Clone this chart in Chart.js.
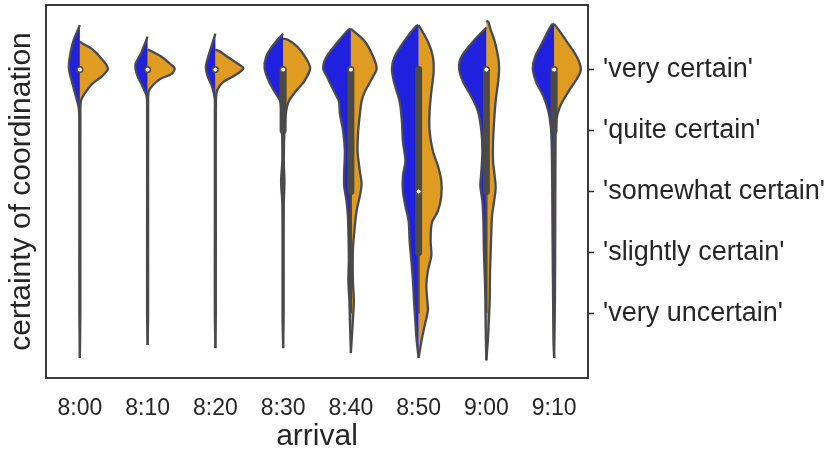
<!DOCTYPE html>
<html>
<head>
<meta charset="utf-8">
<script src="https://cdn.jsdelivr.net/npm/chart.js@4/dist/chart.umd.min.js"></script>
<style>
  html, body { margin: 0; padding: 0; background: #fff; }
</style>
</head>
<body>
<canvas id="chart" width="829" height="453"></canvas>
<script>
const arrivals = ["8:00", "8:10", "8:20", "8:30", "8:40", "8:50", "9:00", "9:10"];
const certaintyTicks = [1, 2, 3, 4, 5];
const certaintyLabels = ["'very uncertain'", "'slightly certain'", "'somewhat certain'", "'quite certain'", "'very certain'"];

// half violin outlines, top to bottom: [certainty, density half width]
const blueHalves = [
  [[5.73,0],[5.46,0.099],[5.21,0.148],[5.02,0.162],[4.80,0.118],[4.56,0.059],[4.35,0.015],[3.99,0.009],[2.5,0.008],[1.0,0.008],[0.27,0]],
  [[5.54,0],[5.29,0.089],[5.10,0.177],[5.02,0.18],[4.89,0.148],[4.72,0.074],[4.56,0.015],[4.3,0.008],[2.5,0.008],[1.0,0.008],[0.48,0]],
  [[5.59,0],[5.29,0.084],[5.10,0.133],[5.02,0.14],[4.89,0.114],[4.72,0.049],[4.53,0.01],[4.3,0.008],[2.5,0.008],[1.0,0.008],[0.43,0]],
  [[5.59,0],[5.38,0.162],[5.21,0.251],[5.02,0.273],[4.80,0.207],[4.61,0.111],[4.48,0.044],[4.23,0.022],[3.99,0.015],[3.5,0.012],[3.17,0.03],[2.8,0.012],[2.0,0.009],[1.0,0.009],[0.43,0]],
  [[5.67,0],[5.65,0.04],[5.46,0.188],[5.21,0.359],[5.02,0.409],[4.89,0.355],[4.64,0.247],[4.48,0.177],[4.27,0.162],[3.99,0.114],[3.66,0.089],[3.33,0.099],[3.09,0.099],[2.84,0.064],[2.60,0.044],[2.36,0.037],[1.87,0.03],[1.54,0.037],[1.21,0.022],[0.89,0.015],[0.35,0]],
  [[5.73,0],[5.71,0.04],[5.46,0.217],[5.21,0.355],[5.02,0.394],[4.80,0.365],[4.48,0.281],[4.15,0.247],[3.82,0.232],[3.50,0.196],[3.25,0.232],[3.01,0.232],[2.76,0.196],[2.52,0.148],[2.19,0.133],[1.87,0.108],[1.54,0.084],[1.21,0.069],[0.89,0.049],[0.56,0.03],[0.27,0]],
  [[5.69,0],[5.46,0.196],[5.21,0.369],[5.02,0.403],[4.80,0.344],[4.56,0.222],[4.31,0.123],[3.99,0.074],[3.66,0.059],[3.33,0.074],[3.09,0.089],[2.84,0.059],[2.52,0.044],[2.03,0.037],[1.54,0.022],[1.21,0.015],[0.72,0.01],[0.23,0]],
  [[5.75,0],[5.73,0.04],[5.46,0.167],[5.21,0.281],[5.02,0.315],[4.80,0.266],[4.56,0.158],[4.31,0.084],[4.07,0.049],[3.82,0.037],[3.33,0.03],[2.84,0.027],[2.03,0.022],[1.21,0.015],[0.56,0.01],[0.27,0]]
];
const orangeHalves = [
  [[5.46,0],[5.42,0.05],[5.34,0.177],[5.21,0.295],[5.02,0.414],[4.89,0.325],[4.76,0.177],[4.59,0.06],[4.48,0.015],[4.2,0.008],[2.5,0.007],[1.0,0.007],[0.27,0]],
  [[5.33,0],[5.30,0.06],[5.21,0.207],[5.10,0.325],[5.02,0.399],[4.93,0.355],[4.84,0.177],[4.72,0.059],[4.64,0.015],[4.4,0.008],[2.5,0.007],[1.0,0.007],[0.48,0]],
  [[5.33,0],[5.30,0.06],[5.21,0.177],[5.10,0.325],[5.02,0.414],[4.89,0.266],[4.80,0.118],[4.67,0.03],[4.5,0.009],[2.5,0.007],[1.0,0.007],[0.43,0]],
  [[5.51,0],[5.49,0.07],[5.38,0.207],[5.21,0.325],[5.02,0.399],[4.80,0.306],[4.64,0.183],[4.48,0.084],[4.31,0.044],[4.07,0.022],[3.5,0.01],[3.17,0.02],[2.8,0.01],[2.0,0.008],[1.0,0.008],[0.43,0]],
  [[5.67,0],[5.46,0.207],[5.21,0.33],[5.02,0.38],[4.89,0.33],[4.64,0.207],[4.48,0.158],[4.27,0.133],[3.99,0.108],[3.66,0.099],[3.33,0.133],[3.12,0.158],[2.93,0.133],[2.68,0.084],[2.36,0.052],[2.03,0.03],[1.54,0.03],[1.21,0.044],[0.89,0.03],[0.35,0]],
  [[5.73,0],[5.46,0.137],[5.21,0.211],[4.97,0.222],[4.64,0.188],[4.31,0.162],[3.99,0.162],[3.66,0.211],[3.42,0.285],[3.17,0.335],[2.93,0.335],[2.68,0.285],[2.49,0.196],[2.19,0.177],[1.95,0.188],[1.70,0.137],[1.46,0.114],[1.21,0.128],[1.05,0.137],[0.80,0.089],[0.56,0.044],[0.27,0]],
  [[5.80,0],[5.78,0.03],[5.67,0.059],[5.46,0.123],[5.21,0.173],[5.02,0.188],[4.80,0.173],[4.48,0.137],[4.15,0.114],[3.82,0.099],[3.50,0.099],[3.25,0.123],[3.06,0.137],[2.84,0.114],[2.60,0.084],[2.19,0.069],[1.70,0.055],[1.21,0.049],[0.89,0.037],[0.56,0.022],[0.23,0]],
  [[5.75,0],[5.62,0.089],[5.46,0.188],[5.21,0.335],[5.02,0.394],[4.89,0.359],[4.64,0.211],[4.40,0.089],[4.18,0.034],[3.91,0.022],[2.84,0.018],[1.21,0.012],[0.27,0]]
];

// inner box per arrival
const q1 = [5, 5, 5, 4, 3, 2, 3, 4];
const medians = [5, 5, 5, 5, 5, 3, 5, 5];
const q3 = [5, 5, 5, 5, 5, 5, 5, 5];
const whiskerLow = [5, 5, 5, 3, 1, 1, 1, 3];
const whiskerHigh = [5, 5, 5, 5, 5, 5, 5, 5];

const BLUE = "#2020df";
const ORANGE = "#df9c20";
const GRAY = "#4a4a4a";
const INK = "#262626";
const FONT = "'Liberation Sans', Arial, sans-serif";

function halfViolin(i, outline, side) {
  return outline.map(([y, w]) => ({ x: i + side * w, y: y }));
}

const datasets = [];
arrivals.forEach((a, i) => {
  [[blueHalves[i], -1, BLUE], [orangeHalves[i], 1, ORANGE]].forEach(([outline, side, color]) => {
    datasets.push({
      data: halfViolin(i, outline, side),
      backgroundColor: color,
      borderColor: GRAY,
      borderWidth: 2.3,
      borderJoinStyle: "round",
      fill: "shape",
      tension: 0.3,
      pointRadius: 0,
      order: 3
    });
  });
  datasets.push({
    data: [{ x: i, y: whiskerLow[i] }, { x: i, y: whiskerHigh[i] }],
    borderColor: GRAY, borderWidth: 2.3, pointRadius: 0, fill: false, order: 2
  });
  datasets.push({
    data: [{ x: i, y: q1[i] }, { x: i, y: q3[i] }],
    borderColor: GRAY, borderWidth: 7, borderCapStyle: "round", pointRadius: 0, fill: false, order: 1
  });
});
datasets.push({
  data: medians.map((m, i) => ({ x: i, y: m })),
  showLine: false,
  pointRadius: 2.5,
  pointBackgroundColor: "#fff",
  pointBorderColor: GRAY,
  pointBorderWidth: 1,
  order: 0
});

// box around the plot area
const frame = {
  id: "frame",
  afterDatasetsDraw(chart) {
    const { left, top, right, bottom } = chart.chartArea;
    const ctx = chart.ctx;
    ctx.save();
    ctx.strokeStyle = INK;
    ctx.lineWidth = 1.8;
    ctx.strokeRect(left, top, right - left, bottom - top);
    ctx.restore();
  }
};

function noPadding(s) {
  s.paddingTop = 0;
  s.paddingBottom = 0;
  s.paddingLeft = 0;
  s.paddingRight = 0;
}

new Chart(document.getElementById("chart"), {
  type: "line",
  data: { datasets },
  plugins: [frame],
  options: {
    responsive: false,
    animation: false,
    layout: { padding: { top: 3 } },
    plugins: { legend: { display: false }, tooltip: { enabled: false } },
    scales: {
      x: {
        type: "linear",
        min: -0.5,
        max: 7.5,
        afterBuildTicks: s => { s.ticks = arrivals.map((a, i) => ({ value: i })); },
        afterFit: s => { s.height = 75; noPadding(s); },
        ticks: {
          callback: v => arrivals[v],
          autoSkip: false,
          maxRotation: 0,
          padding: 9,
          color: INK,
          font: { family: FONT, size: 23 }
        },
        grid: { display: false },
        border: { display: false },
        title: { display: true, text: "arrival", color: INK, padding: 0, font: { family: FONT, size: 30, lineHeight: 1.1 } }
      },
      y: {
        type: "linear",
        position: "right",
        min: -0.06,
        max: 6.06,
        afterBuildTicks: s => { s.ticks = certaintyTicks.map(v => ({ value: v })); },
        afterFit: s => { s.width = 241; noPadding(s); },
        ticks: {
          callback: v => certaintyLabels[certaintyTicks.indexOf(v)],
          padding: 9,
          color: INK,
          font: { family: FONT, size: 27 }
        },
        grid: { display: true, drawOnChartArea: false, drawTicks: true, tickLength: 6, tickColor: INK, tickWidth: 1.5 },
        border: { display: false }
      },
      yLeft: {
        type: "linear",
        position: "left",
        min: -0.06,
        max: 6.06,
        afterFit: s => { s.width = 46; noPadding(s); },
        ticks: { display: false },
        grid: { display: false },
        border: { display: false },
        title: { display: true, text: "certainty of coordination", color: INK, padding: { top: 4, bottom: 0 }, font: { family: FONT, size: 30 } }
      }
    }
  }
});
</script>
</body>
</html>
